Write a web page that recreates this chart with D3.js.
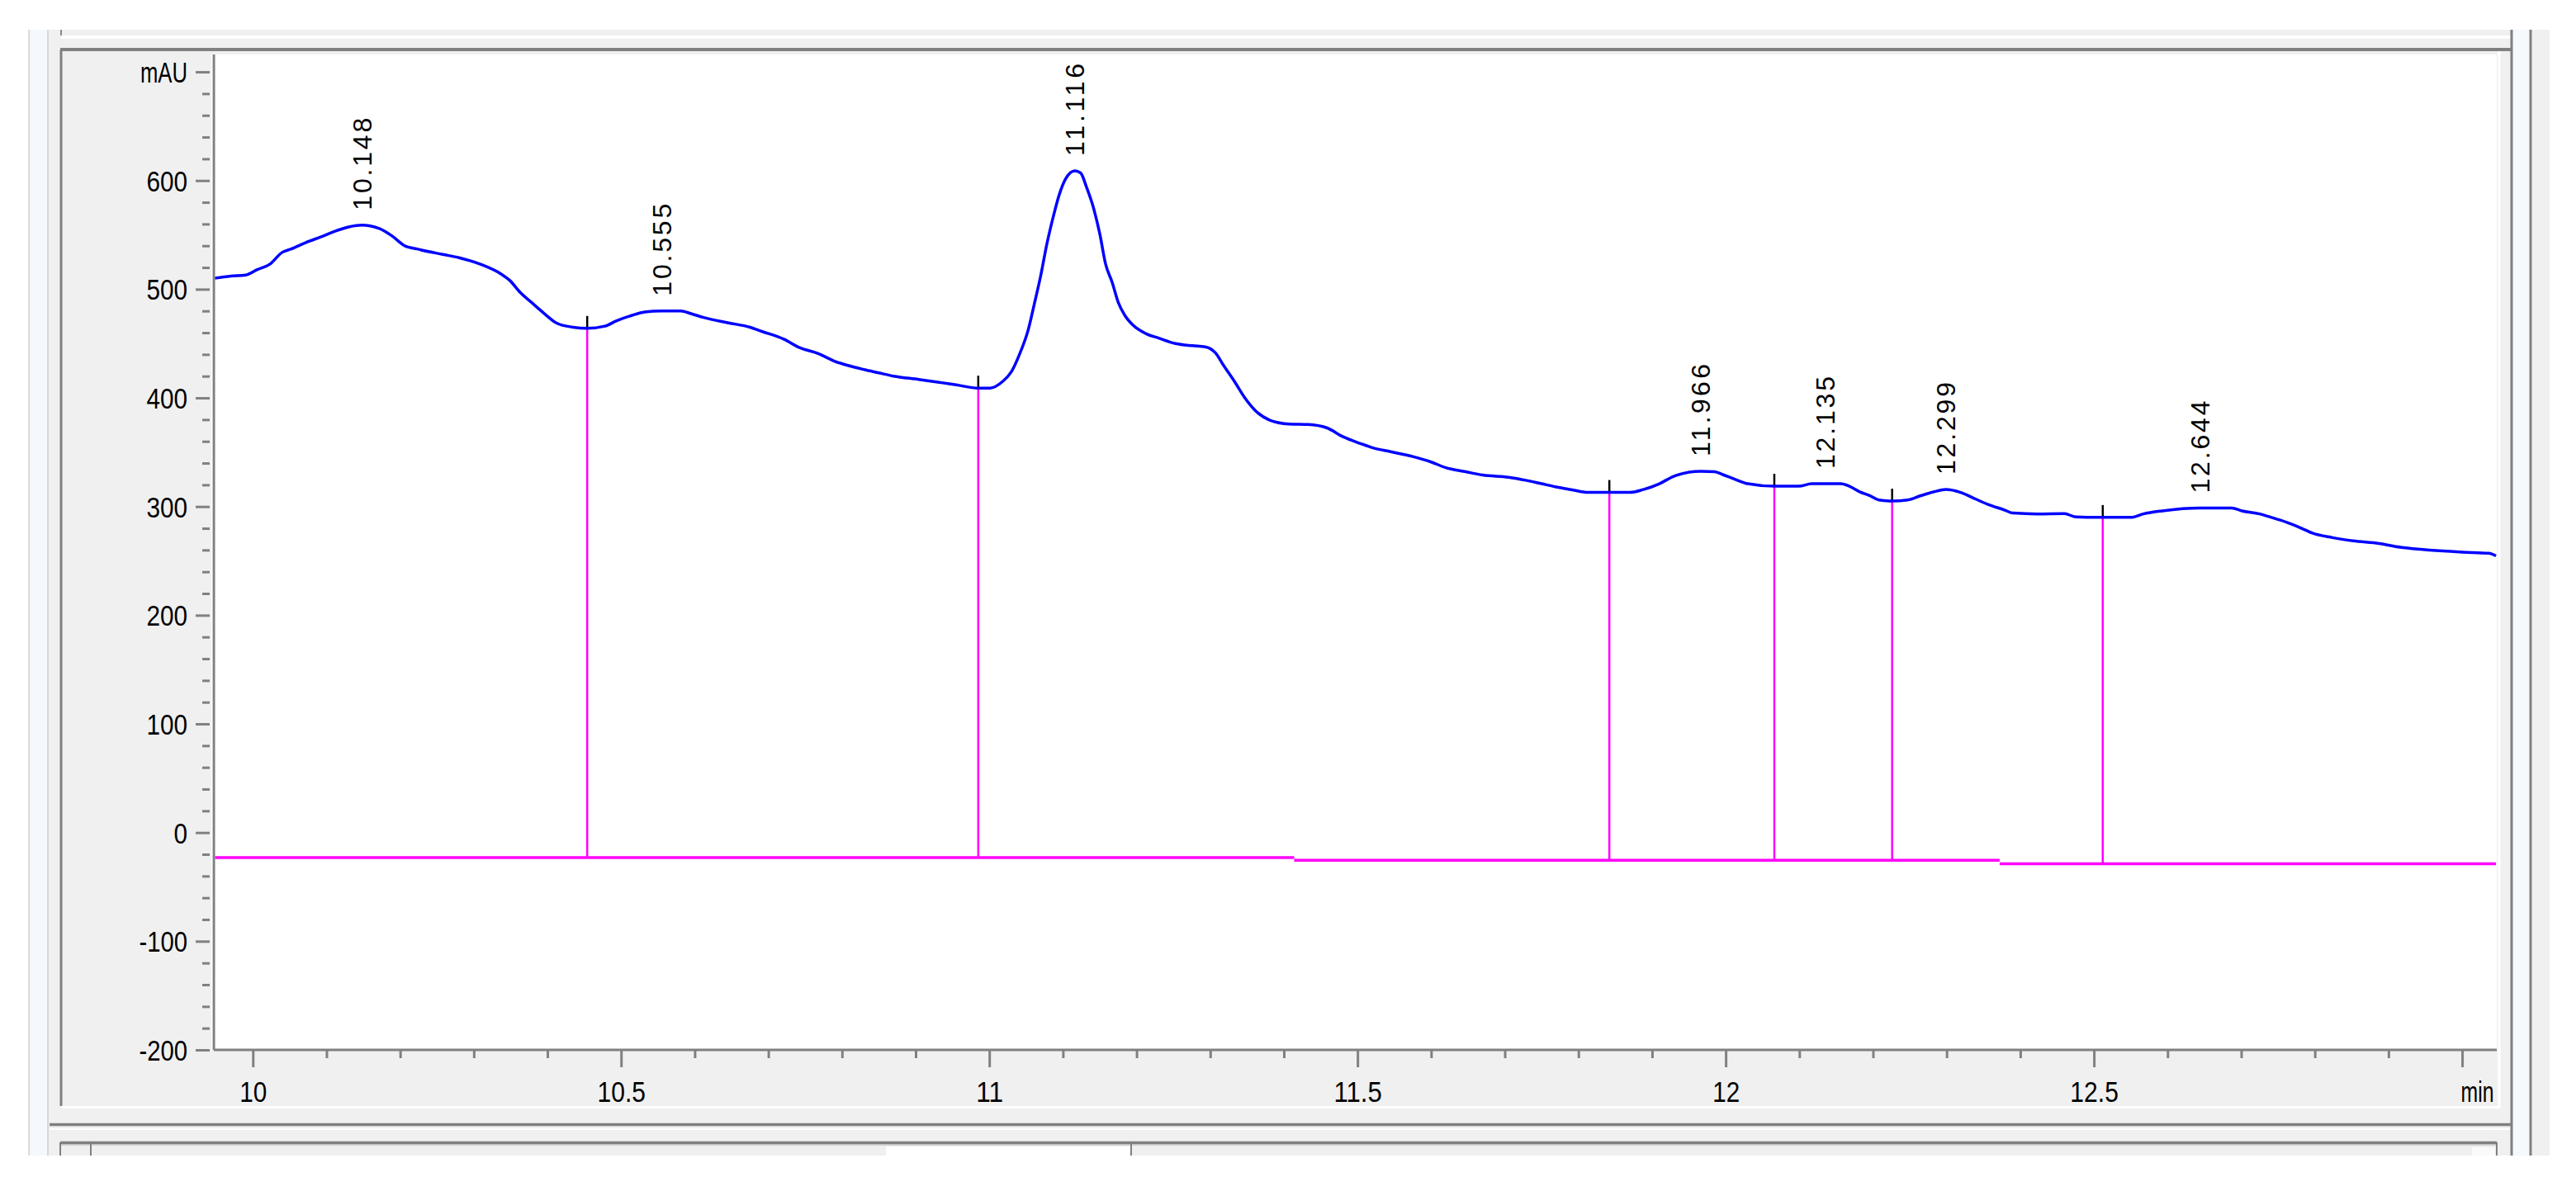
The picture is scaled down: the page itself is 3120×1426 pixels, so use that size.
<!DOCTYPE html>
<html>
<head>
<meta charset="utf-8">
<script src="https://cdn.jsdelivr.net/npm/d3@7"></script>
<style>
  body { margin: 0; background: #ffffff; }
  svg { display: block; }
</style>
</head>
<body>
<div id="chart"></div>
<script>
// signal trace (time in min, mAU)
const timeMin = [
  9.947, 9.97, 9.99, 10.006, 10.023, 10.04, 10.052, 10.072, 10.092, 10.114, 10.131, 10.148,
  10.171, 10.189, 10.206, 10.223, 10.258, 10.28, 10.309, 10.337, 10.349, 10.363, 10.378, 10.395,
  10.412, 10.435, 10.454, 10.478, 10.494, 10.515, 10.532, 10.555, 10.581, 10.595, 10.612, 10.646,
  10.675, 10.692, 10.721, 10.743, 10.767, 10.789, 10.807, 10.83, 10.85, 10.87, 10.904, 10.935,
  10.955, 10.985, 11.001, 11.018, 11.03, 11.041, 11.053, 11.061, 11.07, 11.078, 11.087, 11.095,
  11.104, 11.116, 11.124, 11.132, 11.141, 11.15, 11.158, 11.167, 11.175, 11.184, 11.195, 11.213,
  11.23, 11.253, 11.276, 11.293, 11.307, 11.318, 11.333, 11.347, 11.361, 11.381, 11.407, 11.433,
  11.458, 11.481, 11.504, 11.521, 11.545, 11.575, 11.6, 11.619, 11.647, 11.67, 11.705, 11.73,
  11.75, 11.77, 11.79, 11.813, 11.842, 11.87, 11.888, 11.91, 11.93, 11.966, 11.985, 11.996,
  12.013, 12.03, 12.066, 12.099, 12.117, 12.135, 12.156, 12.168, 12.182, 12.196, 12.208, 12.226,
  12.247, 12.265, 12.282, 12.299, 12.319, 12.339, 12.356, 12.379, 12.39, 12.423, 12.46, 12.475,
  12.512, 12.55, 12.567, 12.593, 12.644, 12.687, 12.701, 12.725, 12.741, 12.762, 12.782, 12.796,
  12.824, 12.852, 12.887, 12.916, 12.944, 13.001, 13.036, 13.046
];
const absorbance = [
  510, 512, 513, 518, 523, 534, 537, 543, 548, 554, 557.5, 559,
  556, 549, 540, 537, 532, 529, 523, 514, 508, 497, 488, 478,
  469, 465, 464, 466, 471, 476, 479, 480, 480, 477.5, 474, 469,
  465, 461, 454, 446, 441, 434, 430, 426, 423, 420, 417, 414,
  412, 409, 409, 415, 424, 440, 463, 486, 513, 541, 567, 587,
  602, 609, 607, 594, 576, 551, 523, 506, 488, 476, 467, 459,
  455, 450, 448, 447, 441.5, 430, 415, 400, 388.5, 379.5, 376, 375.5,
  372.5, 364, 358, 354, 350.5, 346, 341, 336, 332, 329, 327, 324,
  321, 318, 315.6, 313, 313, 313, 315.6, 321, 328, 332.4, 332, 329.4,
  325, 321, 318.7, 318.7, 321, 321, 321, 318.7, 313.6, 310, 306, 305,
  306, 310, 313.4, 315.7, 313, 307, 302, 296.7, 294, 293.2, 293.5, 290.5,
  290, 290, 293.2, 296, 298.6, 298.6, 296, 293.2, 290, 285.4, 280, 275.7,
  271.4, 268.4, 266, 262.6, 260.6, 258, 257, 254.6
];

// integration results
const peakTimes = [10.148, 10.555, 11.116, 11.966, 12.135, 12.299, 12.644];
const peakHeights = [559, 480, 609, 332.4, 321, 315.7, 298.6];
const peakLabels = ["10.148", "10.555", "11.116", "11.966", "12.135", "12.299", "12.644"];

const valleyTimes = [10.454, 10.985, 11.842, 12.066, 12.226, 12.512];
const valleyHeights = [464, 409, 313, 318.7, 305, 290];

const baselineStart = [9.947, 11.414, 12.372];
const baselineEnd = [11.414, 12.372, 13.046];
const baselineLevel = [-23, -25.5, -28.7];

// axes
const yMajorTicks = [-200, -100, 0, 100, 200, 300, 400, 500, 600, 700];
const yMinorStep = 20;
const xMajorTicks = [10, 10.5, 11, 11.5, 12, 12.5, 13];
const xTickLabels = ["10", "10.5", "11", "11.5", "12", "12.5", "min"];
const xMinorStep = 0.1;
const xDomain = [9.947, 13.047];
const yDomain = [-200, 716];

const W = 3120, H = 1426;
const plot = { left: 259, right: 3024, top: 66, bottom: 1272 };
const axisFont = "'Liberation Sans', Arial, sans-serif";
const labelFont = "'Liberation Sans', Arial, sans-serif";

// the instrument font is narrow: squeeze labels to their measured width
const labelWidth = s => {
  if (s === "mAU") return 57;
  if (s === "min") return 40;
  return Array.from(s).reduce((w, c) => w + (/[0-9]/.test(c) ? 16.5 : 9), 0);
};

const svg = d3.select("#chart").append("svg")
  .attr("width", W)
  .attr("height", H);

svg.append("rect").attr("width", W).attr("height", H).attr("fill", "#ffffff");

// window chrome around the plot
const chrome = svg.append("g");
chrome.append("rect").attr("x", 35).attr("y", 36).attr("width", 3053).attr("height", 1364).attr("fill", "#f0f0f0");
chrome.append("rect").attr("x", 37).attr("y", 36).attr("width", 20).attr("height", 1364).attr("fill", "#f5f8fc");
chrome.append("rect").attr("x", 3044).attr("y", 36).attr("width", 20).attr("height", 1364).attr("fill", "#f5f8fc");
const grayLines = [
  [35, 36, 35, 1400, "#d4d4d4", 1.5],
  [58, 36, 58, 1400, "#d0d0d0", 1.5],
  [74, 36, 74, 43, "#8a8a8a", 2],
  [74, 45, 3041, 45, "#ffffff", 4],
  [73, 60, 3042, 60, "#808080", 4],
  [74, 60, 74, 1340, "#808080", 3],
  [3027, 62, 3027, 1342, "#ffffff", 3],
  [74, 1341.5, 3028, 1341.5, "#ffffff", 3],
  [60, 1362.5, 3042, 1362.5, "#808080", 3.5],
  [60, 1368, 3042, 1368, "#ffffff", 2],
  [3042, 36, 3042, 1400, "#808080", 3],
  [3065, 36, 3065, 1400, "#808080", 3],
  [73, 1384.5, 3024, 1384.5, "#808080", 3.5],
  [73, 1387, 3024, 1387, "#b0b0b0", 1],
  [73, 1384, 73, 1400, "#808080", 2],
  [110, 1386, 110, 1400, "#808080", 2],
  [1370, 1386, 1370, 1400, "#808080", 2],
  [3024, 1384, 3024, 1400, "#808080", 2]
];
chrome.selectAll(".chrome-line")
  .data(grayLines)
  .enter().append("line")
  .attr("x1", d => d[0]).attr("y1", d => d[1])
  .attr("x2", d => d[2]).attr("y2", d => d[3])
  .attr("stroke", d => d[4])
  .attr("stroke-width", d => d[5]);
chrome.append("rect").attr("x", 1073).attr("y", 1389).attr("width", 296).attr("height", 11).attr("fill", "#ffffff");
chrome.append("rect").attr("x", 2994).attr("y", 1390).attr("width", 28).attr("height", 10).attr("fill", "#fafafa");

// plot area
svg.append("rect")
  .attr("x", plot.left).attr("y", plot.top)
  .attr("width", plot.right - plot.left)
  .attr("height", plot.bottom - plot.top)
  .attr("fill", "#ffffff");

const x = d3.scaleLinear().domain(xDomain).range([plot.left, plot.right]);
const y = d3.scaleLinear().domain(yDomain).range([plot.bottom, plot.top]);

// y axis: ticks sit a little left of the axis line
const yMinorTicks = d3.range(yDomain[0], 701, yMinorStep).filter(v => v % 100 !== 0);

const yMinor = svg.append("g")
  .attr("transform", `translate(${plot.left - 5},0)`)
  .call(d3.axisLeft(y).tickValues(yMinorTicks).tickSize(9).tickFormat(""));

const yMajor = svg.append("g")
  .attr("transform", `translate(${plot.left - 5},0)`)
  .call(d3.axisLeft(y).tickValues(yMajorTicks).tickSize(17).tickPadding(10)
    .tickFormat(d => d === 700 ? "mAU" : d));

[yMinor, yMajor].forEach(g => {
  g.select(".domain").remove();
  g.selectAll(".tick line").attr("stroke", "#808080").attr("stroke-width", 3);
});
yMajor.selectAll(".tick text")
  .attr("dy", "0.36em")
  .attr("textLength", function() { return labelWidth(this.textContent); })
  .attr("lengthAdjust", "spacingAndGlyphs")
  .style("font-family", axisFont)
  .style("font-size", "35px")
  .attr("fill", "#000000");

// x axis
const xMinorTicks = d3.range(10.1, 13.0, xMinorStep)
  .map(v => Math.round(v * 10) / 10)
  .filter(v => !xMajorTicks.includes(v));

const xMinor = svg.append("g")
  .attr("transform", `translate(0,${plot.bottom})`)
  .call(d3.axisBottom(x).tickValues(xMinorTicks).tickSize(10).tickFormat(""));

const xMajor = svg.append("g")
  .attr("transform", `translate(0,${plot.bottom})`)
  .call(d3.axisBottom(x).tickValues(xMajorTicks).tickSize(21)
    .tickFormat((d, i) => xTickLabels[i]));

[xMinor, xMajor].forEach(g => {
  g.select(".domain").remove();
  g.selectAll(".tick line").attr("stroke", "#808080").attr("stroke-width", 3);
});
xMajor.selectAll(".tick text")
  .attr("y", 63)
  .attr("dy", 0)
  .attr("dx", (d, i) => xTickLabels[i] === "min" ? 18 : 0)
  .attr("textLength", (d, i) => labelWidth(xTickLabels[i]))
  .attr("lengthAdjust", "spacingAndGlyphs")
  .style("font-family", axisFont)
  .style("font-size", "35px")
  .attr("fill", "#000000");

// axis lines
svg.append("line")
  .attr("x1", plot.left).attr("x2", plot.left)
  .attr("y1", y(yDomain[1])).attr("y2", y(yDomain[0]))
  .attr("stroke", "#808080").attr("stroke-width", 3);
svg.append("line")
  .attr("x1", x(xDomain[0])).attr("x2", x(xDomain[1]))
  .attr("y1", plot.bottom).attr("y2", plot.bottom)
  .attr("stroke", "#808080").attr("stroke-width", 3);
svg.append("line")
  .attr("x1", plot.left - 2.5).attr("x2", plot.left - 2.5)
  .attr("y1", y(yDomain[1])).attr("y2", y(yDomain[0]))
  .attr("stroke", "#ffffff").attr("stroke-width", 1.5);

svg.append("defs").append("clipPath").attr("id", "plot-clip")
  .append("rect")
  .attr("x", plot.left + 1.5).attr("y", plot.top)
  .attr("width", plot.right - plot.left - 1.5)
  .attr("height", plot.bottom - plot.top - 1.5);

const layer = svg.append("g").attr("clip-path", "url(#plot-clip)");

// integration baseline
layer.selectAll(".baseline")
  .data(baselineLevel)
  .enter().append("line")
  .attr("class", "baseline")
  .attr("x1", (d, i) => x(baselineStart[i]))
  .attr("x2", (d, i) => x(baselineEnd[i]))
  .attr("y1", d => y(d))
  .attr("y2", d => y(d))
  .attr("stroke", "#ff00ff")
  .attr("stroke-width", 3.5);

// drop lines from baseline to the trace at each valley
const baseAt = t => {
  const i = baselineStart.findIndex((s, k) => t >= s && t < baselineEnd[k]);
  return baselineLevel[i < 0 ? baselineLevel.length - 1 : i];
};
layer.selectAll(".drop")
  .data(valleyTimes)
  .enter().append("line")
  .attr("class", "drop")
  .attr("x1", d => x(d)).attr("x2", d => x(d))
  .attr("y1", d => y(baseAt(d)))
  .attr("y2", (d, i) => y(valleyHeights[i]))
  .attr("stroke", "#ff00ff")
  .attr("stroke-width", 2.5);

layer.selectAll(".tickmark")
  .data(valleyTimes)
  .enter().append("line")
  .attr("class", "tickmark")
  .attr("x1", d => x(d)).attr("x2", d => x(d))
  .attr("y1", (d, i) => y(valleyHeights[i]))
  .attr("y2", (d, i) => y(valleyHeights[i]) - 15)
  .attr("stroke", "#000000")
  .attr("stroke-width", 2.5);

// signal
const line = d3.line()
  .x((d, i) => x(timeMin[i]))
  .y(d => y(d))
  .curve(d3.curveMonotoneX);

layer.append("path")
  .datum(absorbance)
  .attr("d", line)
  .attr("fill", "none")
  .attr("stroke", "#0000ff")
  .attr("stroke-width", 3.5)
  .attr("stroke-linejoin", "round");

// retention time labels
svg.selectAll(".peak-label")
  .data(peakLabels)
  .enter().append("text")
  .attr("class", "peak-label")
  .attr("transform", (d, i) => `translate(${x(peakTimes[i])},${y(peakHeights[i]) - 18}) rotate(-90)`)
  .attr("dy", "0.36em")
  .attr("text-anchor", "start")
  .attr("textLength", 112)
  .attr("lengthAdjust", "spacing")
  .style("font-family", labelFont)
  .style("font-size", "32px")
  .attr("fill", "#000000")
  .text(d => d);
</script>
</body>
</html>
